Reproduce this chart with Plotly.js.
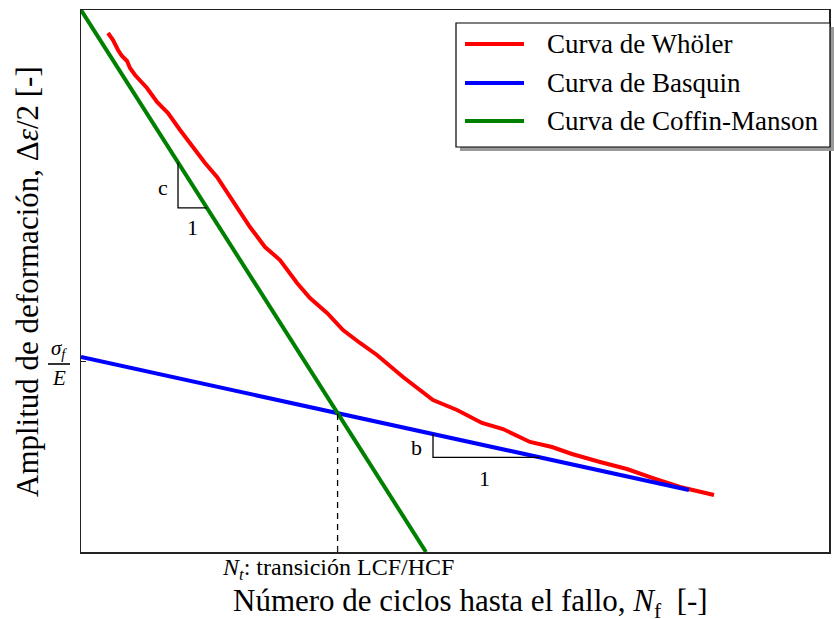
<!DOCTYPE html>
<html>
<head>
<meta charset="utf-8">
<script src="https://cdn.plot.ly/plotly-3.0.1.min.js"></script>
<style>
  html, body { margin: 0; padding: 0; background: #fff; }
  #chart { width: 834px; height: 619px; }
</style>
</head>
<body>
<div id="chart"></div>
<script>
// Schematic strain-life diagram (log N vs log strain amplitude, arbitrary units)
const wohlerX = [0.361, 0.428, 0.495, 0.548, 0.615, 0.655, 0.722, 0.882, 1.016, 1.163,
                 1.324, 1.497, 1.658, 1.818, 1.952, 2.086, 2.193, 2.259, 2.460, 2.660,
                 2.888, 3.061, 3.289, 3.503, 3.730, 3.957, 4.305, 4.532, 4.706, 5.027,
                 5.361, 5.642, 6.003, 6.297, 6.564, 6.939, 7.299, 7.647, 8.008, 8.463];
const wohlerY = [9.576, 9.446, 9.262, 9.151, 9.059, 8.930, 8.801, 8.561, 8.303, 8.100,
                 7.786, 7.472, 7.177, 6.919, 6.642, 6.365, 6.144, 5.996, 5.627, 5.387,
                 4.963, 4.686, 4.410, 4.096, 3.856, 3.635, 3.229, 2.989, 2.804, 2.620,
                 2.380, 2.269, 2.030, 1.937, 1.808, 1.661, 1.531, 1.365, 1.199, 1.052];
const basquinX = [0, 8.128];
const basquinY = [3.598, 1.144];
const coffinX = [0, 4.612];
const coffinY = [10, 0];
const sigmaLevel = 3.51;          // elastic intercept sigma_f/E
const slopeTriC = [1.297, 1.684]; // run of the "c" slope triangle
const slopeTriB = [4.706, 6.136]; // run of the "b" slope triangle

const legendNames = ['Curva de Whöler', 'Curva de Basquin', 'Curva de Coffin-Manson'];
const legendColors = ['#ff0000', '#0000ff', '#008000'];

const serif = '"Liberation Serif", "Times New Roman", serif';

function lineAt(xs, ys, x) {
  const t = (x - xs[0]) / (xs[1] - xs[0]);
  return ys[0] + t * (ys[1] - ys[0]);
}

// intersection of the two straight-line laws -> transition life
const mB = (basquinY[1] - basquinY[0]) / (basquinX[1] - basquinX[0]);
const mC = (coffinY[1] - coffinY[0]) / (coffinX[1] - coffinX[0]);
const xT = (basquinY[0] - coffinY[0]) / (mC - mB);
const yT = lineAt(basquinX, basquinY, xT);

const traces = [
  { x: wohlerX, y: wohlerY, mode: 'lines', name: legendNames[0],
    line: { color: legendColors[0], width: 4 }, showlegend: false, hoverinfo: 'skip' },
  { x: basquinX, y: basquinY, mode: 'lines', name: legendNames[1],
    line: { color: legendColors[1], width: 4 }, showlegend: false, hoverinfo: 'skip' },
  { x: coffinX, y: coffinY, mode: 'lines', name: legendNames[2],
    line: { color: legendColors[2], width: 4 }, showlegend: false, hoverinfo: 'skip' },
  { x: [xT, xT], y: [0, yT], mode: 'lines', showlegend: false, hoverinfo: 'skip',
    line: { color: '#000', width: 1.3, dash: '6px,5px' } }
];

// plot-area geometry in page pixels
const L = 81, R = 829, T = 10, B = 552;
const px = v => (v - L) / (R - L);
const py = v => (B - v) / (B - T);

const shapes = [];
const annotations = [];

function note(x, y, text, size, extra) {
  annotations.push(Object.assign({
    x, y, xref: 'paper', yref: 'paper', text, showarrow: false,
    xanchor: 'center', yanchor: 'middle',
    font: { family: serif, size, color: '#000' }
  }, extra || {}));
}

// slope triangles
function triangle(xs, law) {
  const y1 = lineAt(law[0], law[1], xs[0]);
  const y2 = lineAt(law[0], law[1], xs[1]);
  shapes.push({ type: 'path', xref: 'x', yref: 'y',
    path: `M ${xs[0]},${y1} L ${xs[0]},${y2} L ${xs[1]},${y2}`,
    line: { color: '#000', width: 1.3 } });
}
triangle(slopeTriC, [coffinX, coffinY]);
triangle(slopeTriB, [basquinX, basquinY]);

const lbl = (x, y, text) => annotations.push({
  x, y, xref: 'x', yref: 'y', text, showarrow: false,
  xanchor: 'center', yanchor: 'middle',
  font: { family: serif, size: 22, color: '#000' }
});
lbl(1.096, 6.734, 'c');
lbl(1.484, 5.978, '1');
lbl(4.479, 1.919, 'b');
lbl(5.388, 1.365, '1');

// sigma_f / E label
note(px(59), py(349), '<i>σ<sub>f</sub></i>', 21);
note(px(59), py(378), '<i>E</i>', 21);
shapes.push({ type: 'line', xref: 'paper', yref: 'paper',
  x0: px(48), x1: px(70), y0: py(364), y1: py(364),
  line: { color: '#000', width: 1.6 } });

// transition label
annotations.push({ x: xT, y: py(569), xref: 'x', yref: 'paper',
  xanchor: 'center', yanchor: 'middle',
  text: '<i>N<sub>t</sub></i>: transición LCF/HCF', showarrow: false,
  font: { family: serif, size: 24, color: '#000' } });

// axis titles
note(px(470), py(603), 'Número de ciclos hasta el fallo, <i>N</i><sub>f</sub>  [-]', 31);
note(px(27), py(282), 'Amplitud de deformación, Δ<i>ε</i>/2 [-]', 31, { textangle: -90 });

// legend box with drop shadow
shapes.push({ type: 'rect', xref: 'paper', yref: 'paper', layer: 'above',
  x0: px(460), x1: px(834), y0: py(151), y1: py(27),
  fillcolor: '#9a9a9a', line: { width: 0 } });
shapes.push({ type: 'rect', xref: 'paper', yref: 'paper', layer: 'above',
  x0: px(456), x1: px(830), y0: py(147), y1: py(23),
  fillcolor: '#fff', line: { color: '#000', width: 1.2 } });
const rows = [44, 83, 121];
legendNames.forEach((name, i) => {
  shapes.push({ type: 'line', xref: 'paper', yref: 'paper', layer: 'above',
    x0: px(465), x1: px(524), y0: py(rows[i]), y1: py(rows[i]),
    line: { color: legendColors[i], width: 4 } });
  note(px(545), py(rows[i]), name, 27, { xanchor: 'left' });
});

const layout = {
  width: 834, height: 619,
  margin: { l: L, r: 834 - R, t: T, b: 619 - B, pad: 0 },
  paper_bgcolor: '#fff', plot_bgcolor: '#fff',
  showlegend: false,
  xaxis: { range: [0, 10], showgrid: false, zeroline: false, showline: true, mirror: true,
    linecolor: '#222', linewidth: 1.5, ticks: 'inside', ticklen: 5, tickcolor: '#222',
    tickvals: [xT], ticktext: [''], showticklabels: false },
  yaxis: { range: [0, 10], showgrid: false, zeroline: false, showline: true, mirror: true,
    linecolor: '#222', linewidth: 1.5, ticks: 'inside', ticklen: 5, tickcolor: '#222',
    tickvals: [sigmaLevel], ticktext: [''], showticklabels: false },
  shapes, annotations
};

Plotly.newPlot('chart', traces, layout, { staticPlot: true, displayModeBar: false });
</script>
</body>
</html>
